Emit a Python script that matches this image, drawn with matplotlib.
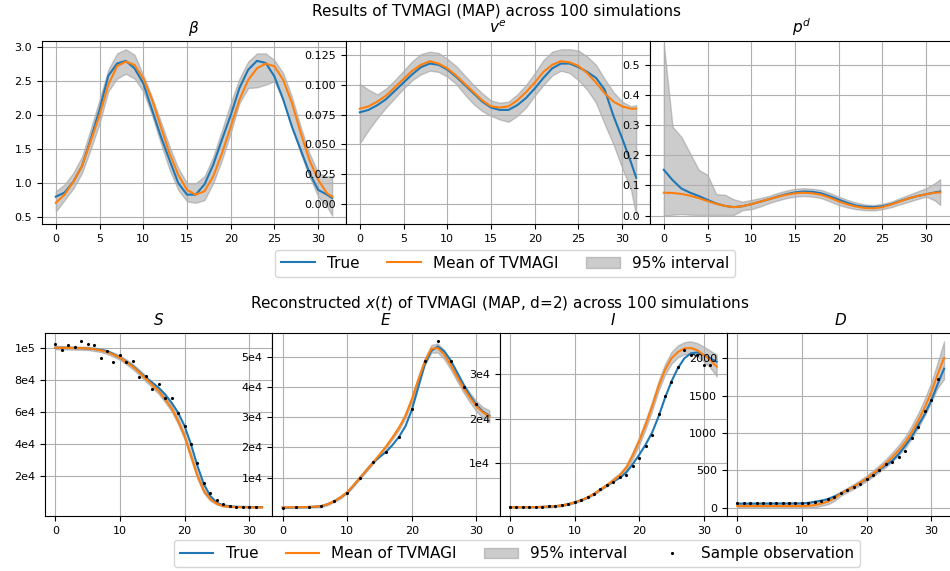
#!/usr/bin/env python3
import numpy as np
import matplotlib
matplotlib.use("Agg")
import matplotlib.pyplot as plt
from matplotlib.patches import Patch
from matplotlib.lines import Line2D

# time grids
t_top = [0, 1, 2, 3, 4, 5, 6, 7, 8, 9, 10, 11, 12, 13, 14, 15, 16, 17, 18, 19, 20,
         21, 22, 23, 24, 25, 26, 27, 28, 29, 30, 31, 31.6]
t_bot = list(range(33))
t_obs = list(range(32))
t_obs_E = list(range(0, 31, 2))

# ---- top row: parameters ----
beta_true = [0.80, 0.86, 1.02, 1.25, 1.65, 2.08, 2.58, 2.76, 2.80, 2.69, 2.47, 2.08, 1.69, 1.34, 1.00, 0.83, 0.83,
             0.98, 1.27, 1.64, 2.00, 2.40, 2.67, 2.80, 2.77, 2.57, 2.23, 1.83, 1.49, 1.15, 0.90, 0.83, 0.78]
beta_mean = [0.71, 0.83, 1.02, 1.25, 1.62, 2.00, 2.45, 2.72, 2.79, 2.74, 2.54, 2.23, 1.83, 1.44, 1.12, 0.90, 0.83,
             0.88, 1.10, 1.44, 1.83, 2.23, 2.52, 2.69, 2.76, 2.72, 2.52, 2.18, 1.74, 1.34, 1.05, 0.85, 0.80]
beta_up = [0.88, 0.98, 1.15, 1.39, 1.80, 2.23, 2.67, 2.91, 2.97, 2.89, 2.59, 2.27, 1.91, 1.54, 1.22, 1.00, 1.00,
           1.10, 1.39, 1.78, 2.18, 2.54, 2.79, 2.91, 2.91, 2.81, 2.62, 2.27, 1.83, 1.44, 1.15, 1.10, 1.10]
beta_lo = [0.58, 0.75, 0.92, 1.15, 1.50, 1.88, 2.35, 2.54, 2.61, 2.54, 2.35, 2.00, 1.59, 1.20, 0.90, 0.73, 0.71,
           0.75, 1.00, 1.34, 1.74, 2.18, 2.40, 2.41, 2.45, 2.50, 2.22, 1.82, 1.44, 1.10, 0.80, 0.66, 0.52]

ve_true = [0.077, 0.079, 0.083, 0.088, 0.095, 0.102, 0.109, 0.115, 0.118, 0.117, 0.113, 0.107, 0.100, 0.093,
           0.086, 0.081, 0.079, 0.079, 0.083, 0.089, 0.097, 0.106, 0.114, 0.118, 0.118, 0.115, 0.111, 0.106,
           0.096, 0.074, 0.055, 0.035, 0.022]
ve_mean = [0.080, 0.082, 0.086, 0.091, 0.098, 0.105, 0.112, 0.117, 0.120, 0.118, 0.114, 0.108, 0.101, 0.094,
           0.087, 0.082, 0.081, 0.082, 0.087, 0.094, 0.102, 0.111, 0.117, 0.120, 0.119, 0.116, 0.110, 0.102,
           0.093, 0.086, 0.082, 0.080, 0.080]
ve_up = [0.101, 0.096, 0.092, 0.097, 0.104, 0.112, 0.120, 0.126, 0.128, 0.127, 0.122, 0.116, 0.108, 0.100,
         0.093, 0.087, 0.085, 0.086, 0.092, 0.100, 0.110, 0.121, 0.128, 0.130, 0.130, 0.129, 0.124, 0.117,
         0.105, 0.094, 0.086, 0.082, 0.083]
ve_lo = [0.051, 0.062, 0.072, 0.081, 0.089, 0.097, 0.104, 0.109, 0.112, 0.111, 0.107, 0.101, 0.092, 0.084,
         0.078, 0.074, 0.071, 0.069, 0.074, 0.081, 0.091, 0.100, 0.108, 0.112, 0.110, 0.104, 0.096, 0.085,
         0.067, 0.050, 0.030, 0.012, -0.010]

pd_true = [0.152, 0.118, 0.090, 0.076, 0.065, 0.052, 0.040, 0.032, 0.028, 0.031, 0.038, 0.046, 0.054, 0.063,
           0.071, 0.077, 0.080, 0.079, 0.074, 0.064, 0.053, 0.042, 0.033, 0.029, 0.028, 0.031, 0.038, 0.048,
           0.057, 0.065, 0.071, 0.077, 0.080]
pd_mean = [0.076, 0.075, 0.072, 0.066, 0.058, 0.048, 0.039, 0.032, 0.028, 0.031, 0.038, 0.046, 0.054, 0.062,
           0.069, 0.074, 0.076, 0.074, 0.069, 0.059, 0.047, 0.037, 0.030, 0.025, 0.024, 0.028, 0.037, 0.047,
           0.057, 0.065, 0.071, 0.076, 0.077]
pd_up = [0.572, 0.295, 0.262, 0.207, 0.152, 0.135, 0.071, 0.069, 0.054, 0.046, 0.052, 0.058, 0.065, 0.075,
         0.083, 0.089, 0.091, 0.089, 0.085, 0.075, 0.063, 0.052, 0.043, 0.037, 0.035, 0.039, 0.046, 0.058,
         0.069, 0.080, 0.091, 0.108, 0.121]
pd_lo = [0.000, 0.003, 0.005, 0.003, 0.002, 0.002, 0.002, 0.002, 0.002, 0.018, 0.021, 0.030, 0.041, 0.050,
         0.058, 0.063, 0.065, 0.063, 0.058, 0.047, 0.035, 0.027, 0.021, 0.018, 0.017, 0.021, 0.028, 0.037,
         0.046, 0.055, 0.063, 0.050, 0.035]

# ---- bottom row: reconstructed states ----
S_true = [100000, 100000, 99900, 99800, 99700, 99500, 99200, 98700, 97900, 96000, 93800, 91300, 88600, 85000,
          81300, 78200, 75000, 70900, 65700, 59500, 51200, 39700, 26200, 14800, 7500, 3300, 1700, 1100, 800,
          700, 650, 600, 600]
S_mean = [100000, 100000, 99900, 99800, 99700, 99600, 99100, 98400, 97300, 95700, 93800, 91100, 88200, 84600,
          80700, 76900, 73000, 67800, 62200, 54300, 44900, 32500, 20000, 10600, 5400, 2700, 1200, 800, 600,
          500, 450, 400, 400]
S_up = [101000, 101000, 100900, 100800, 100700, 100600, 100200, 99500, 98500, 97000, 95200, 92600, 89800,
        86300, 82500, 78700, 74800, 69700, 64100, 56300, 46900, 34500, 21800, 12000, 6300, 3300, 1600, 1100,
        800, 700, 650, 600, 600]
S_lo = [99000, 99000, 98900, 98800, 98700, 98600, 98000, 97300, 96100, 94400, 92400, 89600, 86600, 82900,
        78900, 75100, 71200, 65900, 60300, 52300, 42900, 30500, 18200, 9200, 4500, 2100, 800, 500, 400, 300,
        250, 200, 200]
S_obs = [102100, 98500, 101500, 100600, 104000, 102100, 101500, 93600, 97900, 91100, 95200, 91300, 91700,
         81500, 82300, 74400, 77600, 68800, 68800, 59100, 51200, 40200, 28300, 15800, 9600, 4800, 2300, 1200,
         800, 600, 600, 600]

E_true = [0, 30, 100, 150, 200, 330, 550, 1200, 2200, 3500, 5000, 7500, 10000, 12500, 15000, 16800, 18500,
          20800, 23500, 27000, 32500, 40000, 47500, 52000, 53500, 51900, 48900, 44900, 40800, 37200, 34100,
          31900, 30500]
E_mean = [100, 100, 150, 200, 250, 350, 500, 1200, 2200, 3500, 5200, 7500, 10000, 12500, 15000, 17600, 20300,
          23300, 26500, 30500, 36000, 42500, 48500, 52700, 53000, 50800, 47400, 43500, 39700, 36500, 33600,
          31600, 30300]
E_up = [400, 400, 450, 500, 550, 650, 800, 1500, 2500, 3900, 5600, 7900, 10400, 12900, 15400, 18000, 20800,
        23900, 27200, 31300, 36900, 43500, 49600, 54000, 54500, 52300, 48900, 45000, 41200, 38100, 35300,
        33400, 32300]
E_lo = [0, 0, 0, 0, 0, 50, 200, 900, 1900, 3100, 4800, 7100, 9600, 12100, 14600, 17200, 19800, 22700, 25800,
        29700, 35100, 41500, 47400, 51400, 51500, 49300, 45900, 42000, 38200, 34900, 31900, 29800, 28300]
E_obs = [0, 100, 200, 550, 2200, 5000, 10000, 15000, 18600, 23500, 32700, 48600, 55200, 48600, 40200, 34500]

I_true = [100, 100, 110, 120, 140, 180, 250, 350, 500, 800, 1200, 1700, 2300, 3100, 4100, 5000, 5900, 6700,
          7900, 9800, 11900, 14200, 16900, 20500, 24700, 28400, 31400, 33600, 34700, 34900, 34300, 33600, 32800]
I_mean = [100, 100, 110, 120, 140, 180, 250, 350, 500, 800, 1200, 1700, 2300, 3100, 4100, 5100, 6100, 7300,
          9000, 11800, 15000, 18700, 22800, 27300, 31000, 33600, 35000, 35800, 35900, 35400, 34300, 33200, 31700]
I_up = [300, 300, 310, 320, 340, 380, 450, 550, 700, 1000, 1400, 1900, 2500, 3300, 4300, 5400, 6700, 7800,
        9600, 12600, 15900, 19700, 23900, 28500, 32300, 35000, 36500, 37200, 37400, 37000, 36200, 35300, 34400]
I_lo = [0, 0, 0, 0, 0, 0, 50, 150, 300, 600, 1000, 1500, 2100, 2900, 3900, 4800, 5900, 7000, 8500, 11000,
        14100, 17700, 21800, 26300, 29900, 32400, 33800, 34500, 34600, 34000, 32900, 31500, 29500]
I_obs = [70, 80, 90, 100, 150, 200, 280, 370, 520, 800, 1260, 1700, 2300, 3100, 4100, 5000, 5850, 6900, 7300,
         9300, 11200, 13900, 16400, 21000, 25200, 28200, 31700, 35400, 34400, 34400, 32100, 32100]

D_true = [55, 55, 55, 56, 56, 56, 57, 57, 57, 58, 58, 65, 80, 95, 115, 150, 190, 235, 280, 330, 380, 440, 509,
          570, 630, 720, 830, 950, 1100, 1250, 1430, 1650, 1860]
D_mean = [22, 22, 22, 22, 22, 22, 22, 22, 22, 22, 22, 25, 35, 55, 80, 124, 190, 235, 280, 335, 390, 455, 522,
          595, 677, 770, 876, 1010, 1164, 1340, 1540, 1783, 2004]
D_up = [60, 60, 60, 60, 60, 60, 60, 60, 60, 60, 60, 65, 75, 95, 125, 165, 215, 265, 315, 370, 430, 500, 570,
        650, 740, 840, 955, 1100, 1265, 1455, 1670, 1940, 2226]
D_lo = [0, 0, 0, 0, 0, 0, 0, 0, 0, 0, 0, 0, 5, 25, 45, 90, 160, 205, 250, 300, 355, 415, 480, 545, 620, 705,
        800, 925, 1070, 1230, 1410, 1600, 1720]
D_obs = [58, 58, 58, 58, 58, 58, 58, 58, 58, 58, 58, 58, 80, 93, 115, 142, 195, 235, 280, 323, 380, 442, 509,
         580, 610, 673, 765, 934, 1084, 1296, 1442, 1717]

top_titles = [r'$\beta$', r'$v^e$', r'$p^d$']
bot_titles = ['$S$', '$E$', '$I$', '$D$']
ve_ticks, ve_labels = [0, 0.025, 0.05, 0.075, 0.1, 0.125], ['0.000', '0.025', '0.050', '0.075', '0.100', '0.125']
S_ticks, S_labels = [2e4, 4e4, 6e4, 8e4, 1e5], ['2e4', '4e4', '6e4', '8e4', '1e5']
E_ticks, E_labels = [1e4, 2e4, 3e4, 4e4, 5e4], ['1e4', '2e4', '3e4', '4e4', '5e4']
I_ticks, I_labels = [1e4, 2e4, 3e4], ['1e4', '2e4', '3e4']

c_true = '#1f77b4'
c_mean = '#ff7f0e'
c_band = 'grey'

fig = plt.figure(figsize=(9.5, 5.71), dpi=100)

# top row
top_data = [(beta_true, beta_mean, beta_up, beta_lo),
            (ve_true, ve_mean, ve_up, ve_lo),
            (pd_true, pd_mean, pd_up, pd_lo)]
for i in range(3):
    ax = fig.add_axes([0.0442 + i * 0.32, 0.6077, 0.32, 0.3205])
    tr, mn, up, lo = top_data[i]
    ax.fill_between(t_top, lo, up, color=c_band, alpha=0.4)
    ax.plot(t_top, tr, color=c_true, lw=1.5)
    ax.plot(t_top, mn, color=c_mean, lw=1.5)
    ax.set_title(top_titles[i], fontsize=11)
    ax.set_xticks([0, 5, 10, 15, 20, 25, 30])
    if i == 1:
        ax.set_yticks(ve_ticks)
        ax.set_yticklabels(ve_labels)
    if i == 2:
        ax.set_ylim(-0.028, 0.58)
    ax.tick_params(labelsize=8)
    ax.grid(True, color='#b0b0b0', lw=0.8)

fig.text(0.523, 0.981, 'Results of TVMAGI (MAP) across 100 simulations', ha='center', va='center', fontsize=11)
h_top = [Line2D([], [], color=c_true, lw=1.5), Line2D([], [], color=c_mean, lw=1.5),
         Patch(facecolor=c_band, alpha=0.4, edgecolor=c_band)]
fig.legend(h_top, ['True', 'Mean of TVMAGI', '95% interval'], loc='center', ncol=3,
           bbox_to_anchor=(0.532, 0.539), fontsize=11, handlelength=2.2, columnspacing=1.8)

# bottom row
bot_data = [(S_true, S_mean, S_up, S_lo, t_obs, S_obs),
            (E_true, E_mean, E_up, E_lo, t_obs_E, E_obs),
            (I_true, I_mean, I_up, I_lo, t_obs, I_obs),
            (D_true, D_mean, D_up, D_lo, t_obs, D_obs)]
bot_ticks = [(S_ticks, S_labels), (E_ticks, E_labels), (I_ticks, I_labels), None]
for i in range(4):
    ax = fig.add_axes([0.0474 + i * 0.2393, 0.0963, 0.2393, 0.3205])
    tr, mn, up, lo, to, ob = bot_data[i]
    ax.fill_between(t_bot, lo, up, color=c_band, alpha=0.4)
    ax.plot(t_bot, tr, color=c_true, lw=1.5)
    ax.plot(t_bot, mn, color=c_mean, lw=1.5)
    ax.plot(to, ob, 'k.', ms=2.5)
    ax.set_title(bot_titles[i], fontsize=11)
    ax.set_xticks([0, 10, 20, 30])
    if bot_ticks[i] is not None:
        ax.set_yticks(bot_ticks[i][0])
        ax.set_yticklabels(bot_ticks[i][1])
    ax.tick_params(labelsize=8)
    ax.grid(True, color='#b0b0b0', lw=0.8)

fig.text(0.526, 0.469, 'Reconstructed $x(t)$ of TVMAGI (MAP, d=2) across 100 simulations',
         ha='center', va='center', fontsize=11)
h_bot = h_top + [Line2D([], [], color='k', marker='.', ms=2.5, ls='')]
fig.legend(h_bot, ['True', 'Mean of TVMAGI', '95% interval', 'Sample observation'], loc='center', ncol=4,
           bbox_to_anchor=(0.544, 0.030), fontsize=11, handlelength=2.2, columnspacing=1.8)

plt.savefig('out.png')
